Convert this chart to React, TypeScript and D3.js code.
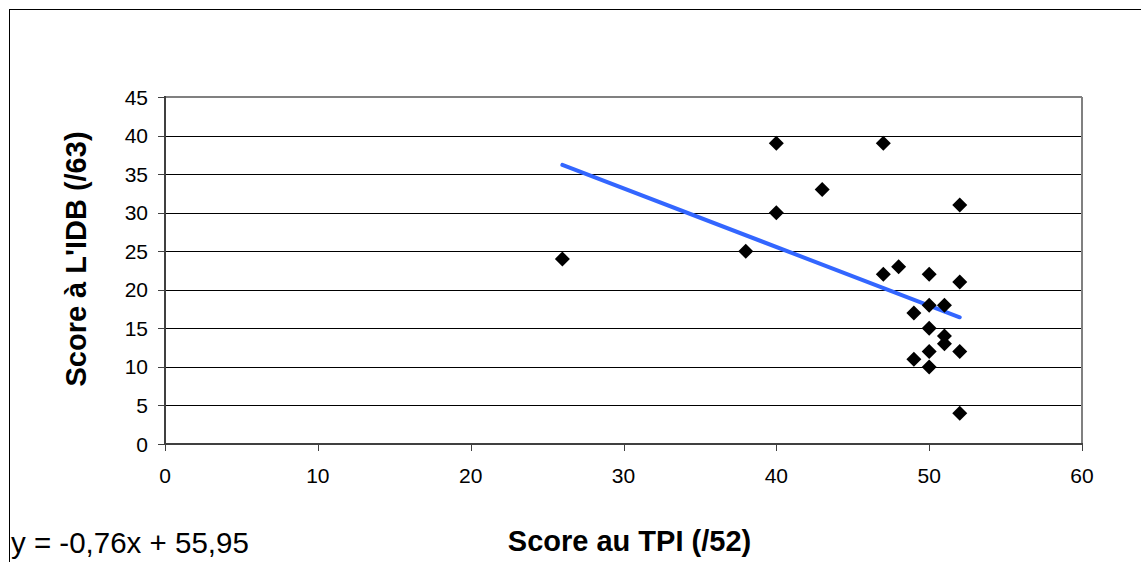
import React from "react";
import * as d3 from "d3";

const tpiScores = [26, 38, 40, 40, 43, 47, 47, 48, 49, 49, 50, 50, 50, 50, 50, 51, 51, 51, 52, 52, 52, 52];
const idbScores = [24, 25, 39, 30, 33, 39, 22, 23, 17, 11, 22, 18, 15, 12, 10, 18, 14, 13, 31, 21, 12, 4];
const xTicks = [0, 10, 20, 30, 40, 50, 60];
const yTicks = [0, 5, 10, 15, 20, 25, 30, 35, 40, 45];
const trendSlope = -0.76;
const trendIntercept = 55.95;
const trendRange = [26, 52];
const equationLabel = "y = -0,76x + 55,95";
const xTitle = "Score au TPI (/52)";
const yTitle = "Score à L'IDB (/63)";

export default function App() {
  const W = 1141;
  const H = 562;
  const left = 165, right = 1082, top = 97, bottom = 444;
  const x = d3.scaleLinear().domain([0, 60]).range([left, right]);
  const y = d3.scaleLinear().domain([0, 45]).range([bottom, top]);
  const font = "'Liberation Sans', Arial, sans-serif";
  const trendData = trendRange.map((v) => [v, trendSlope * v + trendIntercept] as [number, number]);
  const line = d3.line<[number, number]>().x((d) => x(d[0])).y((d) => y(d[1]));
  const diamond = (cx: number, cy: number, r: number) =>
    `M${cx},${cy - r}L${cx + r},${cy}L${cx},${cy + r}L${cx - r},${cy}Z`;

  return (
    <svg width={W} height={H} style={{ position: "absolute", left: 0, top: 0, background: "#fff" }} fontFamily={font}>
      <rect x={0} y={0} width={W} height={H} fill="#fff" />
      <rect x={9.5} y={9.5} width={W + 20} height={H + 20} fill="none" stroke="#000" strokeWidth={1} />
      {/* gridlines */}
      {yTicks.filter((t) => t > 0 && t < 45).map((t) => (
        <line key={"g" + t} x1={left} x2={right} y1={Math.round(y(t)) + 0.5} y2={Math.round(y(t)) + 0.5} stroke="#000" strokeWidth={1} />
      ))}
      {/* plot frame top/right */}
      <line x1={left} x2={right} y1={top} y2={top} stroke="#808080" strokeWidth={2} />
      <line x1={right} x2={right} y1={top} y2={bottom} stroke="#808080" strokeWidth={2} />
      {/* axes */}
      <line x1={left} x2={left} y1={top - 1} y2={bottom} stroke="#404040" strokeWidth={2} />
      <line x1={left} x2={right + 1} y1={bottom} y2={bottom} stroke="#404040" strokeWidth={2} />
      {yTicks.map((t) => (
        <g key={"y" + t}>
          <line x1={left - 7} x2={left} y1={Math.round(y(t)) + 0.5} y2={Math.round(y(t)) + 0.5} stroke="#404040" strokeWidth={1} />
          <text x={148} y={y(t)} dy="0.36em" textAnchor="end" fontSize={21} fill="#000">{t}</text>
        </g>
      ))}
      {xTicks.map((t) => (
        <g key={"x" + t}>
          <line x1={Math.round(x(t)) + 0.5} x2={Math.round(x(t)) + 0.5} y1={bottom} y2={bottom + 7} stroke="#404040" strokeWidth={1} />
          <text x={x(t)} y={483} textAnchor="middle" fontSize={21} fill="#000">{t}</text>
        </g>
      ))}
      {/* trendline */}
      <path d={line(trendData) || ""} fill="none" stroke="#3366ff" strokeWidth={4} strokeLinecap="round" />
      {/* points */}
      {tpiScores.map((v, i) => (
        <path key={"p" + i} d={diamond(x(v), y(idbScores[i]), 7.5)} fill="#000" />
      ))}
      {/* titles */}
      <text transform={`translate(86,259) rotate(-90)`} textAnchor="middle" fontSize={29} fontWeight="bold" fill="#000">{yTitle}</text>
      <text x={629.5} y={551} textAnchor="middle" fontSize={29} fontWeight="bold" fill="#000">{xTitle}</text>
      <text x={11} y={553} fontSize={29.5} fill="#000">{equationLabel}</text>
    </svg>
  );
}
